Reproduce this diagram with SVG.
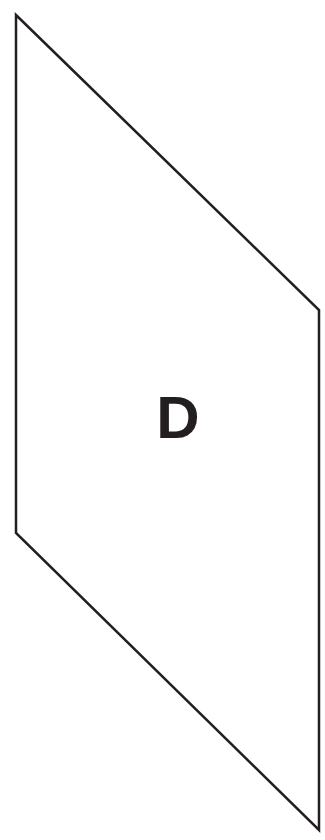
<svg xmlns="http://www.w3.org/2000/svg" width="325" height="840" viewBox="0 0 325 840">
<style>
.shape{fill:#ffffff;stroke:#231f20;stroke-width:2.5;stroke-linejoin:miter}
.lbl{font-family:"Liberation Sans",Arial,sans-serif;font-weight:bold;font-size:60px;fill:#231f20;text-anchor:middle}
</style>
<rect width="325" height="840" fill="#ffffff"/>
<g id="node-D">
<polygon class="shape" points="16,15 319,310 319,830 16,533"/>
<text class="lbl" x="178" y="438">D</text>
</g>
<g id="connectors"/>
</svg>
